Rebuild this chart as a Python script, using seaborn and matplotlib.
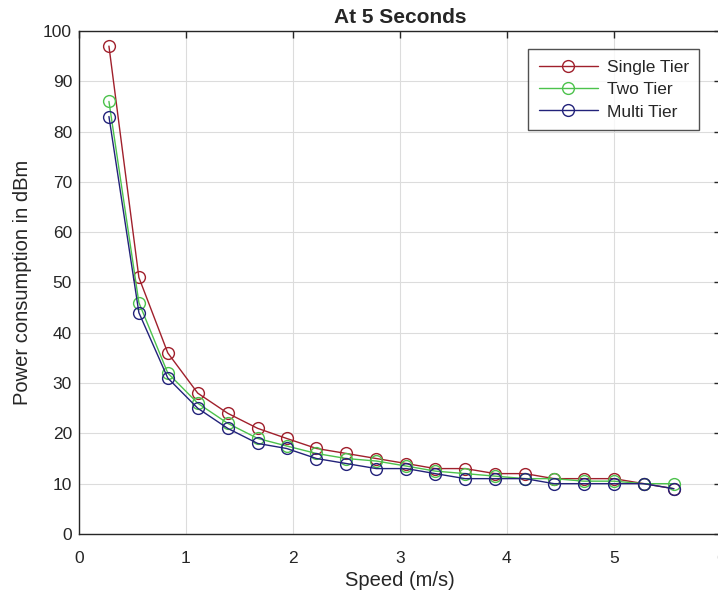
import matplotlib.pyplot as plt
import seaborn as sns
import pandas as pd

# speed samples (m/s)
speed = [0.28, 0.56, 0.83, 1.11, 1.39, 1.67, 1.94, 2.22, 2.50, 2.78,
         3.06, 3.33, 3.61, 3.89, 4.17, 4.44, 4.72, 5.00, 5.28, 5.56]

single_tier = [97, 51, 36, 28, 24, 21, 19, 17, 16, 15,
               14, 13, 13, 12, 12, 11, 11, 11, 10, 9]
two_tier = [86, 46, 32, 26, 22, 19, 17.5, 16, 15, 14.5,
            13.5, 12.5, 12, 11.5, 11, 11, 10.5, 10.5, 10, 10]
multi_tier = [83, 44, 31, 25, 21, 18, 17, 15, 14, 13,
              13, 12, 11, 11, 11, 10, 10, 10, 10, 9]

series = ["Single Tier", "Two Tier", "Multi Tier"]
colors = {"Single Tier": "#a0202c", "Two Tier": "#4cc24c", "Multi Tier": "#22227a"}

df = pd.concat([
    pd.DataFrame({"speed": speed, "power": single_tier, "tier": "Single Tier"}),
    pd.DataFrame({"speed": speed, "power": two_tier, "tier": "Two Tier"}),
    pd.DataFrame({"speed": speed, "power": multi_tier, "tier": "Multi Tier"}),
])

sns.set_style("white")
plt.rcParams["font.family"] = ["Liberation Sans", "DejaVu Sans"]

fig = plt.figure(figsize=(7.18, 6.02), dpi=100)
ax = fig.add_axes([0.110, 0.113, 0.894, 0.8355])

for name in series:
    sns.lineplot(data=df[df["tier"] == name], x="speed", y="power", ax=ax,
                 color=colors[name], linewidth=1.0, marker="o", markersize=8.5,
                 markerfacecolor="none", markeredgecolor=colors[name],
                 markeredgewidth=1.0, label=name)

ax.set_xlim(0, 6)
ax.set_ylim(0, 100)
ax.set_xticks(range(0, 7))
ax.set_yticks(range(0, 101, 10))
ax.grid(True, color="#dcdcdc", linewidth=0.8)
ax.tick_params(direction="in", length=5, width=1, labelsize=12.5, top=True, right=True,
               color="#262626", labelcolor="#262626")
ax.tick_params(axis="y", pad=5)
ax.tick_params(axis="x", pad=12)
for sp in ax.spines.values():
    sp.set_color("#262626")
    sp.set_linewidth(1.0)

ax.set_xlabel("Speed (m/s)", fontsize=14.5, color="#262626", labelpad=4)
ax.set_ylabel("Power consumption in dBm", fontsize=14.5, color="#262626", labelpad=8)
ax.set_title("At 5 Seconds", fontsize=15, fontweight="bold", pad=6)

leg = ax.legend(loc="upper right", bbox_to_anchor=(0.966, 0.964), borderaxespad=0,
                fontsize=12.5, frameon=True, fancybox=False, edgecolor="#262626",
                handlelength=3.4, borderpad=0.6, labelspacing=0.42, handletextpad=0.5)
leg.get_frame().set_linewidth(1.0)

fig.savefig("out.png", dpi=100)
